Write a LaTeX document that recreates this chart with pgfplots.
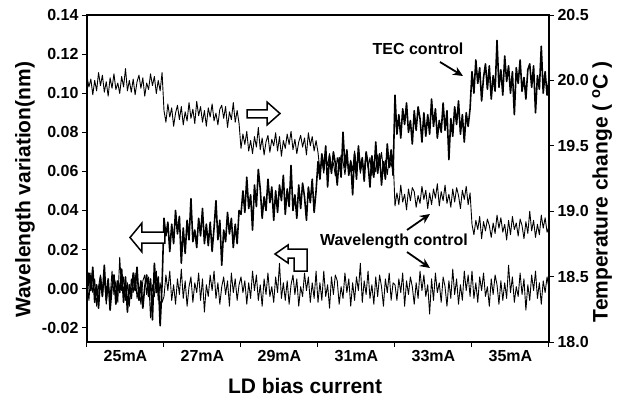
\documentclass[border=0pt]{standalone}
\usepackage{pgfplots}
\pgfplotsset{compat=1.18}
\usepackage{pgfplotstable}
\usepackage{fontspec}
\setmainfont{Liberation Sans}
\usetikzlibrary{arrows.meta}

% x = position along the bias-current axis (one unit per step),
% A = temperature (right axis), B = wavelength, TEC control, C = wavelength, wavelength control
\pgfplotstableread[row sep=\\]{
x A B C\\
0.000 20.03 -0.005 0.003\\
0.025 19.95 0.008 -0.006\\
0.050 20.01 -0.001 0.008\\
0.075 19.89 0.011 -0.002\\
0.100 20.00 -0.007 0.005\\
0.125 19.92 0.002 -0.009\\
0.150 20.06 -0.010 0.001\\
0.175 19.96 0.006 0.007\\
0.200 20.04 -0.004 -0.004\\
0.225 19.91 0.012 0.006\\
0.250 19.99 -0.006 -0.008\\
0.275 19.88 0.005 0.002\\
0.300 20.02 -0.011 -0.005\\
0.325 19.94 0.001 0.009\\
0.350 20.05 0.007 -0.003\\
0.375 19.93 -0.008 0.004\\
0.400 19.98 0.004 -0.007\\
0.425 19.90 -0.002 0.016\\
0.450 20.03 0.010 -0.001\\
0.475 19.95 -0.007 0.006\\
0.500 20.09 0.006 -0.006\\
0.525 19.92 -0.012 0.003\\
0.550 20.00 0.002 -0.009\\
0.575 19.91 -0.005 0.005\\
0.600 20.01 0.008 -0.002\\
0.625 19.89 -0.001 0.008\\
0.650 19.99 0.011 -0.005\\
0.675 20.04 -0.006 0.001\\
0.700 19.94 0.004 -0.008\\
0.725 20.02 -0.010 0.004\\
0.750 19.88 0.001 0.007\\
0.775 19.98 0.007 -0.003\\
0.800 19.93 -0.004 0.006\\
0.825 20.05 0.005 -0.015\\
0.850 19.96 -0.016 0.002\\
0.875 20.03 0.013 -0.004\\
0.900 19.90 -0.002 0.009\\
0.925 20.00 0.006 -0.006\\
0.950 19.92 -0.019 0.003\\
0.975 20.06 0.002 -0.007\\
1.000 19.77 0.036 -0.004\\
1.025 19.68 0.027 0.007\\
1.050 19.82 0.034 -0.001\\
1.075 19.72 0.019 0.009\\
1.100 19.79 0.033 -0.006\\
1.125 19.65 0.023 0.002\\
1.150 19.75 0.040 -0.008\\
1.175 19.81 0.028 0.005\\
1.200 19.70 0.037 -0.003\\
1.225 19.80 0.013 0.010\\
1.250 19.66 0.031 -0.005\\
1.275 19.76 0.018 0.004\\
1.300 19.69 0.035 -0.009\\
1.325 19.83 0.025 0.001\\
1.350 19.71 0.046 0.006\\
1.375 19.78 0.024 -0.007\\
1.400 19.67 0.030 0.003\\
1.425 19.84 0.021 -0.002\\
1.450 19.73 0.036 0.008\\
1.475 19.80 0.027 -0.006\\
1.500 19.68 0.041 0.005\\
1.525 19.77 0.023 -0.012\\
1.550 19.65 0.033 0.002\\
1.575 19.79 0.022 -0.004\\
1.600 19.72 0.034 0.007\\
1.625 19.82 0.019 -0.001\\
1.650 19.69 0.031 0.009\\
1.675 19.75 0.045 -0.005\\
1.700 19.66 0.025 0.003\\
1.725 19.78 0.035 -0.008\\
1.750 19.81 0.012 0.001\\
1.775 19.71 0.030 0.006\\
1.800 19.80 0.024 -0.003\\
1.825 19.64 0.039 0.004\\
1.850 19.76 0.028 -0.009\\
1.875 19.70 0.036 0.008\\
1.900 19.83 0.021 -0.002\\
1.925 19.68 0.033 0.005\\
1.950 19.77 0.023 -0.006\\
1.975 19.67 0.040 0.002\\
2.000 19.48 0.038 0.006\\
2.025 19.59 0.050 -0.002\\
2.050 19.51 0.039 0.004\\
2.075 19.61 0.057 -0.008\\
2.100 19.46 0.041 0.003\\
2.125 19.54 0.048 -0.005\\
2.150 19.44 0.030 0.009\\
2.175 19.57 0.053 -0.001\\
2.200 19.49 0.042 0.007\\
2.225 19.64 0.061 -0.006\\
2.250 19.47 0.051 0.002\\
2.275 19.56 0.036 -0.009\\
2.300 19.43 0.047 0.005\\
2.325 19.53 0.040 -0.003\\
2.350 19.58 0.056 0.008\\
2.375 19.45 0.044 -0.004\\
2.400 19.55 0.052 0.001\\
2.425 19.50 0.035 -0.007\\
2.450 19.60 0.050 0.006\\
2.475 19.46 0.039 -0.002\\
2.500 19.57 0.053 0.013\\
2.525 19.42 0.045 -0.005\\
2.550 19.54 0.058 0.003\\
2.575 19.48 0.038 -0.006\\
2.600 19.59 0.051 0.004\\
2.625 19.51 0.042 -0.008\\
2.650 19.61 0.063 0.002\\
2.675 19.47 0.040 0.007\\
2.700 19.55 0.048 -0.003\\
2.725 19.44 0.036 0.005\\
2.750 19.53 0.053 -0.009\\
2.775 19.58 0.041 0.001\\
2.800 19.49 0.054 -0.004\\
2.825 19.56 0.047 0.008\\
2.850 19.43 0.035 -0.001\\
2.875 19.60 0.052 0.006\\
2.900 19.50 0.044 -0.007\\
2.925 19.57 0.056 0.003\\
2.950 19.46 0.039 -0.005\\
2.975 19.54 0.050 0.009\\
3.000 19.45 0.065 -0.007\\
3.025 19.31 0.056 0.003\\
3.050 19.39 0.069 -0.006\\
3.075 19.29 0.061 0.009\\
3.100 19.42 0.073 -0.004\\
3.125 19.35 0.052 0.002\\
3.150 19.44 0.068 -0.010\\
3.175 19.32 0.059 0.006\\
3.200 19.37 0.070 -0.003\\
3.225 19.27 0.064 0.007\\
3.250 19.41 0.053 0.004\\
3.275 19.33 0.067 -0.008\\
3.300 19.43 0.057 0.001\\
3.325 19.38 0.080 -0.005\\
3.350 19.28 0.062 0.008\\
3.375 19.40 0.071 -0.002\\
3.400 19.30 0.058 0.005\\
3.425 19.39 0.065 -0.009\\
3.450 19.31 0.048 0.003\\
3.475 19.46 0.069 -0.006\\
3.500 19.34 0.056 0.006\\
3.525 19.42 0.073 -0.001\\
3.550 19.29 0.061 0.013\\
3.575 19.37 0.067 -0.007\\
3.600 19.32 0.055 0.004\\
3.625 19.44 0.070 -0.003\\
3.650 19.33 0.064 0.009\\
3.675 19.41 0.052 -0.005\\
3.700 19.27 0.068 0.002\\
3.725 19.38 0.057 -0.008\\
3.750 19.30 0.075 0.006\\
3.775 19.43 0.059 -0.004\\
3.800 19.35 0.069 0.007\\
3.825 19.45 0.053 0.001\\
3.850 19.31 0.065 -0.009\\
3.875 19.39 0.056 0.005\\
3.900 19.28 0.074 -0.002\\
3.925 19.40 0.062 0.008\\
3.950 19.34 0.071 -0.006\\
3.975 19.42 0.058 0.003\\
4.000 19.04 0.099 0.002\\
4.025 19.14 0.079 -0.006\\
4.050 19.05 0.089 0.005\\
4.075 19.20 0.077 -0.002\\
4.100 19.07 0.092 0.008\\
4.125 19.13 0.084 -0.009\\
4.150 19.01 0.095 0.004\\
4.175 19.17 0.080 -0.003\\
4.200 19.08 0.086 0.006\\
4.225 19.18 0.074 0.001\\
4.250 19.15 0.091 -0.008\\
4.275 19.03 0.081 0.003\\
4.300 19.12 0.093 -0.005\\
4.325 19.06 0.087 0.009\\
4.350 19.19 0.075 -0.001\\
4.375 19.09 0.090 0.007\\
4.400 19.16 0.078 -0.004\\
4.425 19.02 0.089 0.002\\
4.450 19.14 0.079 -0.013\\
4.475 19.05 0.097 0.005\\
4.500 19.17 0.083 -0.006\\
4.525 19.10 0.092 0.008\\
4.550 19.21 0.077 -0.002\\
4.575 19.04 0.086 0.003\\
4.600 19.15 0.080 -0.007\\
4.625 19.08 0.095 0.006\\
4.650 19.20 0.081 0.001\\
4.675 19.06 0.091 -0.009\\
4.700 19.13 0.066 0.004\\
4.725 19.03 0.087 -0.005\\
4.750 19.17 0.078 0.010\\
4.775 19.07 0.093 -0.003\\
4.800 19.18 0.084 0.005\\
4.825 19.12 0.096 -0.008\\
4.850 19.02 0.079 0.002\\
4.875 19.16 0.089 -0.006\\
4.900 19.09 0.075 0.009\\
4.925 19.19 0.090 -0.001\\
4.950 19.05 0.083 0.007\\
4.975 19.14 0.092 -0.004\\
5.000 18.90 0.111 0.009\\
5.025 18.82 0.100 -0.005\\
5.050 18.93 0.117 0.003\\
5.075 18.86 0.105 -0.007\\
5.100 18.96 0.113 0.006\\
5.125 18.79 0.096 -0.001\\
5.150 18.92 0.108 0.008\\
5.175 18.85 0.115 -0.004\\
5.200 18.94 0.102 0.001\\
5.225 18.89 0.114 -0.009\\
5.250 18.80 0.097 0.005\\
5.275 18.91 0.109 -0.003\\
5.300 18.83 0.101 0.007\\
5.325 18.97 0.127 0.002\\
5.350 18.87 0.103 -0.008\\
5.375 18.95 0.112 0.004\\
5.400 18.84 0.099 -0.006\\
5.425 18.90 0.119 0.003\\
5.450 18.78 0.106 -0.005\\
5.475 18.93 0.114 0.012\\
5.500 18.82 0.100 -0.002\\
5.525 18.96 0.111 0.006\\
5.550 18.86 0.089 -0.007\\
5.575 18.91 0.113 0.001\\
5.600 18.81 0.105 -0.004\\
5.625 18.94 0.117 0.008\\
5.650 18.89 0.101 -0.003\\
5.675 18.79 0.108 0.005\\
5.700 18.92 0.097 -0.011\\
5.725 18.83 0.112 0.002\\
5.750 19.00 0.115 -0.006\\
5.775 18.85 0.103 0.007\\
5.800 18.93 0.114 -0.001\\
5.825 18.80 0.090 0.009\\
5.850 18.90 0.109 -0.005\\
5.875 18.82 0.102 0.003\\
5.900 18.97 0.124 -0.008\\
5.925 18.87 0.100 0.004\\
5.950 18.95 0.111 -0.002\\
5.975 18.84 0.099 0.006\\
6.000 18.88 0.107 0.000\\
}\ldtrace

\pgfplotsset{
  ldframe/.style={
    scale only axis, width=462pt, height=327pt,
    xmin=0, xmax=6,
    tick align=outside, major tick length=5pt,
    every tick/.style={black, line width=1pt},
    axis line style={line width=1.1pt},
    tick label style={font=\fontsize{16}{18}\selectfont\bfseries},
    label style={font=\fontsize{21}{24}\selectfont\bfseries},
    /pgf/number format/assume math mode=true,
  },
  trace/.style={black, line width=0.9pt, no marks, line join=round},
}

\begin{document}
\begin{tikzpicture}
\useasboundingbox (-87pt,-58pt) rectangle (538pt,342pt);
\begin{axis}[ldframe,
  ymin=-0.0273, ymax=0.14,
  xtick={0,1,2,3,4,5,6},
  xticklabels={25mA,27mA,29mA,31mA,33mA,35mA},
  x tick label as interval,
  xtick pos=left, ytick pos=left,
  ytick={-0.02,0,0.02,0.04,0.06,0.08,0.1,0.12,0.14},
  yticklabel style={/pgf/number format/.cd, fixed, fixed zerofill, precision=2},
  xlabel={LD bias current},
  ylabel={Wavelength variation(nm)},
  xlabel style={at={(axis description cs:0.472,-0.135)}, anchor=center},
  ylabel style={at={(axis description cs:-0.134,0.465)}, anchor=center},
]
\addplot[trace] table[x=x, y=C] {\ldtrace};
\addplot[trace, line width=1.6pt] table[x=x, y=B] {\ldtrace};
\end{axis}
\begin{axis}[ldframe,
  ymin=18, ymax=20.5,
  axis y line*=right, axis x line=none,
  ytick={18,18.5,19,19.5,20,20.5},
  yticklabel style={/pgf/number format/.cd, fixed, fixed zerofill, precision=1},
  ylabel={Temperature change ( \textsuperscript{o}C )},
  ylabel style={at={(axis description cs:1.115,0.46)}, anchor=center, rotate=0},
]
\addplot[trace] table[x=x, y=A] {\ldtrace};
\end{axis}

% hollow arrows
\draw[line width=1.5pt, fill=white] (160pt,224pt) -- (180pt,224pt) -- (180pt,217pt) -- (193pt,228.5pt)
  -- (180pt,240pt) -- (180pt,232pt) -- (160pt,232pt) -- cycle;
\draw[line width=1.5pt, fill=white] (78pt,99pt) -- (55pt,99pt) -- (55pt,90pt) -- (43pt,104.5pt)
  -- (55pt,119pt) -- (55pt,110pt) -- (78pt,110pt) -- cycle;
\draw[line width=1.5pt, fill=white] (188pt,88pt) -- (201pt,97pt) -- (201pt,93pt) -- (220pt,93pt)
  -- (220pt,71pt) -- (207pt,71pt) -- (207pt,84pt) -- (201pt,84pt) -- (201pt,79pt) -- cycle;

% labels with pointers
\node[font=\fontsize{16}{18}\selectfont\bfseries] at (331pt,293pt) {TEC control};
\draw[line width=1.8pt, -{Stealth[length=10pt,width=9pt]}] (353pt,280pt) -- (376pt,266pt);
\node[font=\fontsize{16}{18}\selectfont\bfseries] at (307pt,101pt) {Wavelength control};
\draw[line width=1.8pt, -{Stealth[length=10pt,width=9pt]}] (320pt,112pt) -- (343pt,128pt);
\draw[line width=1.8pt, -{Stealth[length=10pt,width=9pt]}] (320pt,90pt) -- (343pt,74pt);
\end{tikzpicture}
\end{document}
